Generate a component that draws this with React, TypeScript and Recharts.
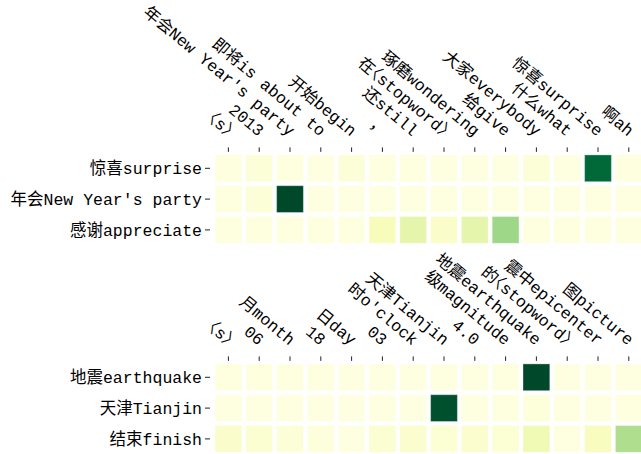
import React from "react";
import { ScatterChart, Scatter, XAxis, YAxis } from "recharts";

// top panel
const topCols = [
  "〈s〉", "2013", "年会New Year's party", "即将is about to", "开始begin", "，",
  "还still", "在〈stopword〉", "琢磨wondering", "给give", "大家everybody",
  "什么what", "惊喜surprise", "啊ah",
];
const topRows = ["惊喜surprise", "年会New Year's party", "感谢appreciate"];
const topSurprise = [0.02, 0.04, 0.02, 0.01, 0.04, 0.02, 0.02, 0.01, 0.01, 0.01, 0.04, 0.01, 0.87, 0.02];
const topParty = [0.02, 0.04, 0.99, 0.01, 0.01, 0.01, 0.01, 0.01, 0.01, 0.01, 0.01, 0.01, 0.01, 0.01];
const topAppreciate = [0.02, 0.02, 0.02, 0.02, 0.02, 0.12, 0.2, 0.08, 0.2, 0.41, 0.02, 0.02, 0.02, 0.02];

// bottom panel
const bottomCols = [
  "〈s〉", "06", "月month", "18", "日day", "03", "时o'clock", "天津Tianjin",
  "4.0", "级magnitude", "地震earthquake", "的〈stopword〉", "震中epicenter", "图picture",
];
const bottomRows = ["地震earthquake", "天津Tianjin", "结束finish"];
const bottomEarthquake = [0.02, 0.02, 0.02, 0.02, 0.01, 0.01, 0.01, 0.01, 0.01, 0.02, 0.99, 0.01, 0.01, 0.01];
const bottomTianjin = [0.01, 0.01, 0.01, 0.01, 0.01, 0.01, 0.01, 0.96, 0.01, 0.02, 0.03, 0.01, 0.01, 0.02];
const bottomFinish = [0.075, 0.06, 0.04, 0.025, 0.015, 0.06, 0.065, 0.05, 0.065, 0.05, 0.15, 0.01, 0.11, 0.37];

const YLGN = ["#ffffe5", "#f7fcb9", "#d9f0a3", "#addd8e", "#78c679", "#41ab5d", "#238443", "#006837", "#004529"];

function hex(c: string) {
  return [1, 3, 5].map((i) => parseInt(c.slice(i, i + 2), 16));
}

function ylgn(v: number) {
  const t = Math.max(0, Math.min(1, v)) * (YLGN.length - 1);
  const i = Math.min(Math.floor(t), YLGN.length - 2);
  const f = t - i;
  const a = hex(YLGN[i]);
  const b = hex(YLGN[i + 1]);
  const m = a.map((x, k) => Math.round(x + (b[k] - x) * f));
  return `rgb(${m[0]},${m[1]},${m[2]})`;
}

const FONT = "'Liberation Mono', 'Noto Sans CJK SC', monospace";
const CELL = 26.8;
const ANGLE = 40;

function toPoints(rows: number[][]) {
  const pts: { x: number; y: number; v: number }[] = [];
  rows.forEach((r, y) => r.forEach((v, x) => pts.push({ x, y, v })));
  return pts;
}

const Cell = (props: any) => {
  const { cx, cy, payload } = props;
  return (
    <rect
      x={cx - CELL / 2}
      y={cy - CELL / 2}
      width={CELL}
      height={CELL}
      fill={ylgn(payload.v)}
      stroke="rgba(255,255,255,0.35)"
      strokeWidth={1}
    />
  );
};

function makeXTick(labels: string[]) {
  return (props: any) => {
    const { x, y, payload } = props;
    const tx = x - 1;
    const ty = y - 10;
    const label = labels[payload.value];
    // narrow angle brackets like the reference, keep the full-width comma
    const narrow = label.includes("〈");
    return (
      <g>
        <line x1={x} x2={x} y1={y + 0.5} y2={y + 5} stroke="#222" strokeWidth={1} />
        <text
          x={tx}
          y={ty}
          transform={`rotate(${ANGLE} ${tx} ${ty})`}
          textAnchor="end"
          fontSize={16.5}
          fontFamily={FONT}
          fill="#000"
          style={narrow ? { fontFeatureSettings: '"halt"' } : undefined}
        >
          {label}
        </text>
      </g>
    );
  };
}

function makeYTick(labels: string[]) {
  return (props: any) => {
    const { x, y, payload } = props;
    return (
      <g>
        <line x1={x} x2={x + 5} y1={y} y2={y} stroke="#222" strokeWidth={1} />
        <text
          x={x - 3}
          y={y}
          dy="0.35em"
          textAnchor="end"
          fontSize={16.5}
          fontFamily={FONT}
          fill="#000"
        >
          {labels[payload.value]}
        </text>
      </g>
    );
  };
}

function Heatmap({
  cols,
  rows,
  values,
  height,
  axisHeight,
  bottom,
}: {
  cols: string[];
  rows: string[];
  values: number[][];
  height: number;
  axisHeight: number;
  bottom: number;
}) {
  return (
    <ScatterChart
      width={660}
      height={height}
      margin={{ top: 0, left: 0, right: 15.8, bottom }}
    >
      <XAxis
        type="number"
        dataKey="x"
        orientation="top"
        domain={[-0.5, 13.5]}
        ticks={cols.map((_, i) => i)}
        interval={0}
        height={axisHeight}
        axisLine={false}
        tickLine={false}
        tickSize={6}
        tickMargin={0}
        tick={makeXTick(cols)}
      />
      <YAxis
        type="number"
        dataKey="y"
        domain={[-0.5, 2.5]}
        reversed
        ticks={rows.map((_, i) => i)}
        interval={0}
        width={213}
        axisLine={false}
        tickLine={false}
        tickSize={8}
        tickMargin={0}
        tick={makeYTick(rows)}
      />
      <Scatter data={toPoints(values)} shape={Cell} isAnimationActive={false} />
    </ScatterChart>
  );
}

export default function App() {
  return (
    <div
      style={{
        position: "fixed",
        top: 0,
        left: 0,
        width: 641,
        height: 454,
        overflow: "hidden",
        background: "#fff",
      }}
    >
      <div style={{ position: "absolute", top: 0, left: 0 }}>
        <Heatmap
          cols={topCols}
          rows={topRows}
          values={[topSurprise, topParty, topAppreciate]}
          height={250}
          axisHeight={152.9}
          bottom={4.7}
        />
      </div>
      <div style={{ position: "absolute", top: 250, left: 0 }}>
        <Heatmap
          cols={bottomCols}
          rows={bottomRows}
          values={[bottomEarthquake, bottomTianjin, bottomFinish]}
          height={210}
          axisHeight={111.9}
          bottom={5.7}
        />
      </div>
    </div>
  );
}
